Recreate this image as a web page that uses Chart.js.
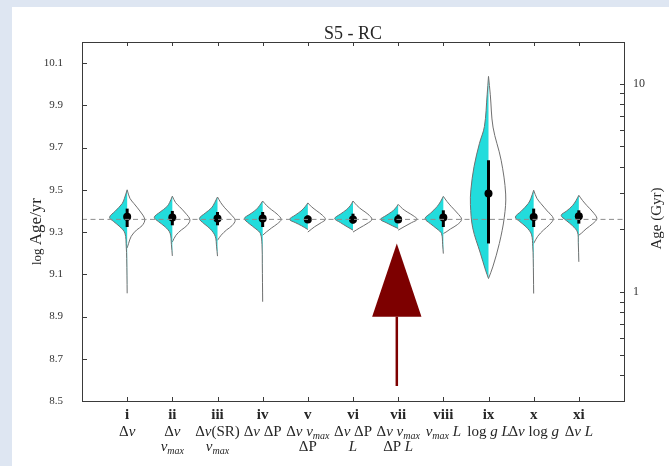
<!DOCTYPE html>
<html>
<head>
<meta charset="utf-8">
<title>S5 - RC</title>
<script src="https://cdn.jsdelivr.net/npm/chart.js@4.4.1/dist/chart.umd.min.js"></script>
<style>
  html, body { margin: 0; padding: 0; background: #dee6f2; overflow: hidden; }
  canvas { display: block; }
</style>
</head>
<body>
<canvas id="violins" width="669" height="466"></canvas>
<script>
// fit combinations along the x axis
const categories = ['i', 'ii', 'iii', 'iv', 'v', 'vi', 'vii', 'viii', 'ix', 'x', 'xi'];
// parameter lines under each numeral: $..$ italic, ~..~ subscript
const paramLabels = [
  ['Δ$ν$'],
  ['Δ$ν$', '$ν$~max~'],
  ['Δ$ν$(SR)', '$ν$~max~'],
  ['Δ$ν$ ΔP'],
  ['Δ$ν$ $ν$~max~', 'ΔP'],
  ['Δ$ν$ ΔP', '$L$'],
  ['Δ$ν$ $ν$~max~', 'ΔP $L$'],
  ['$ν$~max~ $L$'],
  ['log $g$ $L$'],
  ['Δ$ν$ log $g$'],
  ['Δ$ν$ $L$']
];

// medians and inner interval of log Age/yr
const medians = [9.372, 9.369, 9.364, 9.364, 9.360, 9.360, 9.360, 9.369, 9.482, 9.371, 9.375];
const innerLo = [9.324, 9.332, 9.332, 9.324, 9.348, 9.340, 9.343, 9.324, 9.246, 9.324, 9.340];
const innerHi = [9.411, 9.400, 9.395, 9.395, 9.379, 9.387, 9.383, 9.403, 9.640, 9.411, 9.403];

// half-violin outlines, [log Age/yr, half width in category units], top to bottom
const cyanProfiles = [
  [[9.50,0],[9.46,0.06],[9.435,0.11],[9.40,0.26],[9.37,0.39],[9.35,0.30],[9.325,0.16],[9.295,0.05],[9.23,0.02],[9.175,0.01],[9.01,0]],
  [[9.47,0],[9.44,0.06],[9.42,0.12],[9.395,0.27],[9.37,0.40],[9.35,0.31],[9.325,0.16],[9.295,0.05],[9.24,0.02],[9.187,0]],
  [[9.466,0],[9.44,0.06],[9.415,0.13],[9.39,0.27],[9.364,0.40],[9.34,0.30],[9.315,0.16],[9.28,0.05],[9.23,0.02],[9.186,0]],
  [[9.447,0],[9.425,0.07],[9.405,0.15],[9.385,0.28],[9.364,0.405],[9.34,0.30],[9.315,0.15],[9.293,0.05],[9.24,0.015],[9.15,0.008],[8.97,0]],
  [[9.438,0],[9.42,0.06],[9.40,0.15],[9.38,0.28],[9.36,0.405],[9.345,0.28],[9.33,0.14],[9.312,0]],
  [[9.447,0],[9.425,0.06],[9.405,0.15],[9.385,0.28],[9.364,0.405],[9.345,0.28],[9.325,0.13],[9.309,0]],
  [[9.431,0],[9.41,0.07],[9.395,0.15],[9.378,0.27],[9.36,0.39],[9.345,0.27],[9.33,0.13],[9.317,0]],
  [[9.469,0],[9.445,0.06],[9.42,0.14],[9.39,0.28],[9.364,0.405],[9.34,0.29],[9.315,0.14],[9.293,0.04],[9.24,0.015],[9.198,0]],
  [[10.037,0],[9.95,0.03],[9.80,0.09],[9.72,0.20],[9.61,0.32],[9.50,0.39],[9.43,0.40],[9.32,0.35],[9.20,0.18],[9.12,0.066],[9.08,0]],
  [[9.498,0],[9.46,0.06],[9.435,0.12],[9.40,0.27],[9.371,0.405],[9.35,0.31],[9.325,0.17],[9.29,0.05],[9.23,0.02],[9.175,0.01],[9.009,0]],
  [[9.474,0],[9.45,0.06],[9.425,0.14],[9.40,0.27],[9.379,0.39],[9.355,0.28],[9.33,0.14],[9.30,0.03],[9.25,0.012],[9.159,0]]
];
const whiteProfiles = [
  [[9.50,0],[9.46,0.06],[9.435,0.15],[9.40,0.28],[9.36,0.39],[9.33,0.33],[9.31,0.21],[9.28,0.09],[9.245,0.03],[9.225,0]],
  [[9.47,0],[9.44,0.07],[9.42,0.16],[9.39,0.29],[9.358,0.39],[9.33,0.32],[9.31,0.20],[9.285,0.08],[9.253,0]],
  [[9.466,0],[9.44,0.07],[9.415,0.16],[9.385,0.29],[9.356,0.39],[9.33,0.32],[9.31,0.20],[9.285,0.08],[9.261,0]],
  [[9.447,0],[9.425,0.09],[9.405,0.20],[9.385,0.32],[9.36,0.41],[9.34,0.33],[9.32,0.20],[9.30,0.08],[9.285,0]],
  [[9.438,0],[9.42,0.08],[9.40,0.20],[9.38,0.32],[9.36,0.39],[9.345,0.30],[9.325,0.15],[9.30,0]],
  [[9.447,0],[9.425,0.09],[9.405,0.20],[9.385,0.33],[9.36,0.42],[9.34,0.31],[9.32,0.15],[9.30,0]],
  [[9.431,0],[9.41,0.10],[9.395,0.20],[9.378,0.33],[9.36,0.42],[9.345,0.30],[9.325,0.13],[9.309,0]],
  [[9.469,0],[9.445,0.08],[9.42,0.18],[9.39,0.31],[9.36,0.405],[9.335,0.31],[9.315,0.16],[9.30,0.06],[9.293,0]],
  [[10.037,0],[9.95,0.04],[9.797,0.10],[9.64,0.28],[9.48,0.38],[9.37,0.35],[9.246,0.24],[9.135,0.095],[9.08,0]],
  [[9.498,0],[9.46,0.07],[9.435,0.16],[9.40,0.30],[9.364,0.435],[9.335,0.35],[9.31,0.22],[9.28,0.09],[9.246,0]],
  [[9.474,0],[9.45,0.08],[9.425,0.18],[9.395,0.31],[9.364,0.40],[9.34,0.31],[9.315,0.16],[9.295,0.06],[9.285,0]]
];

// reference age (dashed line) and arrow under vii
const refAge = 9.36;
const arrowX = 6.97, arrowTip = 9.246, arrowBase = 8.899, arrowTail = 8.571, arrowHalf = 0.546;

// axes
const yTicks = [8.5, 8.7, 8.9, 9.1, 9.3, 9.5, 9.7, 9.9, 10.1];
const ageTicks = [0.4, 0.5, 0.6, 0.7, 0.8, 0.9, 1, 2, 3, 4, 5, 6, 7, 8, 9, 10];
const ageLabels = [1, 10];
const yMin = 8.5, yMax = 10.2;

const SERIF = '"Liberation Serif", "DejaVu Serif", serif';
const CYAN = '#22dcdc';
const EDGE = '#707070';

const datasets = [];
categories.forEach((c, i) => {
  const cx = i + 1;
  datasets.push({
    data: cyanProfiles[i].map(([y, w]) => ({ x: cx - w, y })),
    showLine: true, fill: 'shape', tension: 0.35,
    backgroundColor: CYAN, borderColor: EDGE, borderWidth: 1,
    pointRadius: 0, order: 4
  });
  datasets.push({
    data: whiteProfiles[i].map(([y, w]) => ({ x: cx + w, y })),
    showLine: true, fill: 'shape', tension: 0.35,
    backgroundColor: '#ffffff', borderColor: EDGE, borderWidth: 1,
    pointRadius: 0, order: 4
  });
});

datasets.push({
  type: 'bar',
  data: categories.map((c, i) => ({ x: i + 1, y: [innerLo[i], innerHi[i]] })),
  backgroundColor: '#000000', barThickness: 3, inflateAmount: 0, order: 3
});
datasets.push({
  data: categories.map((c, i) => ({ x: i + 1, y: medians[i] })),
  pointRadius: 4, pointBackgroundColor: '#000000', pointBorderWidth: 0, order: 2
});
datasets.push({
  data: [{ x: 0, y: refAge }, { x: 12, y: refAge }],
  showLine: true, borderColor: '#8c8c8c', borderWidth: 1, borderDash: [5, 3.5],
  pointRadius: 0, order: 1
});
// arrow head and shaft
datasets.push({
  data: [{ x: arrowX - arrowHalf, y: arrowBase }, { x: arrowX, y: arrowTip }, { x: arrowX + arrowHalf, y: arrowBase }],
  showLine: true, fill: 'shape', backgroundColor: '#7d0000', borderWidth: 0,
  pointRadius: 0, order: 0
});
datasets.push({
  data: [{ x: arrowX, y: arrowTail }, { x: arrowX, y: arrowBase }],
  showLine: true, borderColor: '#7d0000', borderWidth: 2.5,
  pointRadius: 0, order: 0
});

function drawRich(ctx, str, cx, baseline) {
  const runs = str.split(/(\$[^$]*\$|~[^~]*~)/).filter(s => s).map(p => {
    if (p[0] === '$') return { t: p.slice(1, -1), font: 'italic 15px ' + SERIF, dy: 0 };
    if (p[0] === '~') return { t: p.slice(1, -1), font: 'italic 10px ' + SERIF, dy: 3 };
    return { t: p, font: '15px ' + SERIF, dy: 0 };
  });
  let total = 0;
  runs.forEach(r => { ctx.font = r.font; r.w = ctx.measureText(r.t).width; total += r.w; });
  let x = cx - total / 2;
  ctx.textAlign = 'left';
  runs.forEach(r => { ctx.font = r.font; ctx.fillText(r.t, x, baseline + r.dy); x += r.w; });
}

const decorations = {
  id: 'decorations',
  beforeDraw(chart) {
    const ctx = chart.ctx;
    ctx.save();
    ctx.fillStyle = '#dee6f2';
    ctx.fillRect(0, 0, chart.width, chart.height);
    ctx.fillStyle = '#ffffff';
    ctx.fillRect(12, 7, chart.width - 12, chart.height - 7);
    ctx.restore();
  },
  afterDraw(chart) {
    const ctx = chart.ctx;
    const { left, right, top, bottom } = chart.chartArea;
    const xs = chart.scales.x, ys = chart.scales.y, as = chart.scales.age;
    ctx.save();
    ctx.strokeStyle = '#3a3a3a';
    ctx.lineWidth = 1;
    ctx.strokeRect(Math.round(left) + 0.5, Math.round(top) + 0.5, Math.round(right - left), Math.round(bottom - top));

    ctx.beginPath();
    yTicks.forEach(v => {
      const py = Math.round(ys.getPixelForValue(v)) + 0.5;
      ctx.moveTo(left, py); ctx.lineTo(left + 5, py);
    });
    ageTicks.forEach(v => {
      const py = Math.round(as.getPixelForValue(v)) + 0.5;
      ctx.moveTo(right, py); ctx.lineTo(right - 4, py);
    });
    categories.forEach((c, i) => {
      const px = Math.round(xs.getPixelForValue(i + 1)) + 0.5;
      ctx.moveTo(px, bottom); ctx.lineTo(px, bottom - 4);
      ctx.moveTo(px, top); ctx.lineTo(px, top + 4);
    });
    ctx.stroke();

    // category labels
    ctx.fillStyle = '#262626';
    ctx.textBaseline = 'alphabetic';
    categories.forEach((c, i) => {
      const px = xs.getPixelForValue(i + 1);
      ctx.font = 'bold 15px ' + SERIF;
      ctx.textAlign = 'center';
      ctx.fillText(c, px, 419);
      paramLabels[i].forEach((line, k) => drawRich(ctx, line, px, 436 + k * 15));
    });

    // title
    ctx.font = '18px ' + SERIF;
    ctx.textAlign = 'center';
    ctx.fillText('S5 - RC', (left + right) / 2, top - 3);

    // left axis title
    ctx.save();
    ctx.translate(41, 231.5);
    ctx.rotate(-Math.PI / 2);
    ctx.font = '13px ' + SERIF;
    const wLog = ctx.measureText('log ').width;
    ctx.font = '17px ' + SERIF;
    const wAge = ctx.measureText('Age/yr').width;
    let x0 = -(wLog + wAge) / 2;
    ctx.textAlign = 'left';
    ctx.font = '13px ' + SERIF;
    ctx.fillText('log ', x0, 0);
    ctx.font = '17px ' + SERIF;
    ctx.fillText('Age/yr', x0 + wLog, 0);
    ctx.restore();

    // right axis title
    ctx.save();
    ctx.translate(661, 218.5);
    ctx.rotate(-Math.PI / 2);
    ctx.font = '15px ' + SERIF;
    ctx.textAlign = 'center';
    ctx.fillText('Age (Gyr)', 0, 0);
    ctx.restore();
    ctx.restore();
  }
};

new Chart(document.getElementById('violins'), {
  type: 'scatter',
  data: { datasets },
  options: {
    responsive: false,
    animation: false,
    devicePixelRatio: 1,
    layout: { padding: { top: 42, left: 0, right: 0, bottom: 0 } },
    plugins: { legend: { display: false }, tooltip: { enabled: false } },
    scales: {
      x: {
        type: 'linear', position: 'bottom', min: 0, max: 12, offset: false,
        grid: { display: false, drawTicks: false }, border: { display: false },
        ticks: { display: false },
        afterBuildTicks: s => { s.ticks = categories.map((c, i) => ({ value: i + 1 })); },
        afterFit: s => { s.height = 65; }
      },
      y: {
        type: 'linear', position: 'left', min: yMin, max: yMax,
        grid: { display: false, drawTicks: false }, border: { display: false },
        ticks: {
          autoSkip: false, padding: 19, color: '#333333',
          font: { family: SERIF, size: 11 },
          callback: v => v.toFixed(1)
        },
        afterBuildTicks: s => { s.ticks = yTicks.map(v => ({ value: v })); },
        afterFit: s => { s.width = 82; }
      },
      age: {
        type: 'logarithmic', position: 'right',
        min: Math.pow(10, yMin - 9), max: Math.pow(10, yMax - 9),
        grid: { display: false, drawTicks: false }, border: { display: false },
        ticks: {
          autoSkip: false, padding: 9, color: '#333333',
          font: { family: SERIF, size: 12 },
          callback: v => (ageLabels.includes(v) ? String(v) : '')
        },
        afterBuildTicks: s => { s.ticks = ageTicks.map(v => ({ value: v })); },
        afterFit: s => { s.width = 45; }
      }
    }
  },
  plugins: [decorations]
});
</script>
</body>
</html>
